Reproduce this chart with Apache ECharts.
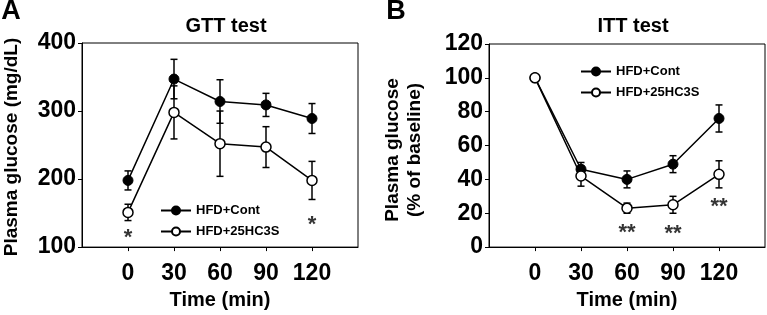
<!DOCTYPE html>
<html>
<head>
<meta charset="utf-8">
<script src="https://cdn.jsdelivr.net/npm/echarts@6/dist/echarts.min.js"></script>
<style>
  html, body { margin: 0; padding: 0; background: #fff; }
  #main { width: 767px; height: 315px; }
</style>
</head>
<body>
<div id="main"></div>
<script>
// time points (min)
const times = [0, 30, 60, 90, 120];
const timeTicks = [0, 30, 60, 90, 120];

// GTT (mg/dL)
const gttCont = [198, 347, 314, 309, 289];
const gttContErr = [14, 29, 32, 17, 22];
const gttHC = [151, 298, 252, 247, 198];
const gttHCErr = [12, 39, 48, 30, 28];
const gttStars = [[0, 119, '*'], [120, 138, '*']];

// ITT (% of baseline)
const ittCont = [100, 46, 40, 49, 76];
const ittContErr = [0, 4, 5, 5, 8];
const ittHC = [100, 42, 23, 25, 43];
const ittHCErr = [0, 6, 3, 5, 8];
const ittStars = [[60, 10.5, '**'], [90, 10, '**'], [120, 26, '**']];

const FONT = '"Liberation Sans", Arial, sans-serif';

const chart = echarts.init(document.getElementById('main'), null, { renderer: 'canvas' });

function pairs(vals) {
  return vals.map((v, i) => [times[i], v]);
}
function errData(vals, errs) {
  const out = [];
  for (let i = 0; i < vals.length; i++) {
    if (errs[i] > 0) out.push([times[i], vals[i] - errs[i], vals[i] + errs[i]]);
  }
  return out;
}

// error bar with caps
function renderErr(params, api) {
  const lo = api.coord([api.value(0), api.value(1)]);
  const hi = api.coord([api.value(0), api.value(2)]);
  const w = 3.5;
  const st = { stroke: '#000', lineWidth: 1.5 };
  return {
    type: 'group',
    children: [
      { type: 'line', shape: { x1: lo[0], y1: lo[1], x2: hi[0], y2: hi[1] }, style: st },
      { type: 'line', shape: { x1: lo[0] - w, y1: lo[1], x2: lo[0] + w, y2: lo[1] }, style: st },
      { type: 'line', shape: { x1: hi[0] - w, y1: hi[1], x2: hi[0] + w, y2: hi[1] }, style: st }
    ]
  };
}

function xAxis(idx) {
  return {
    type: 'value', gridIndex: idx, min: -30, max: 150, interval: 30,
    name: 'Time (min)', nameLocation: 'middle', nameGap: 40,
    nameTextStyle: { color: '#000', fontFamily: FONT, fontWeight: 'bold', fontSize: 20 },
    axisLine: { onZero: false, lineStyle: { color: '#000', width: 1 } },
    axisTick: { show: true, length: 4, customValues: timeTicks, lineStyle: { color: '#000' } },
    axisLabel: { customValues: timeTicks, margin: 15, color: '#000', fontFamily: FONT, fontWeight: 'bold', fontSize: 23 },
    splitLine: { show: false }
  };
}
function yAxis(idx, min, max, step) {
  return {
    type: 'value', gridIndex: idx, min: min, max: max, interval: step,
    axisLine: { show: true, onZero: false, lineStyle: { color: '#000', width: 1 } },
    axisTick: { show: true, length: 4, lineStyle: { color: '#000' } },
    axisLabel: { margin: 6, color: '#000', fontFamily: FONT, fontWeight: 'bold', fontSize: 23 },
    splitLine: { show: false }
  };
}

function lineSeries(name, idx, vals, open) {
  return {
    name: name, type: 'line', xAxisIndex: idx, yAxisIndex: idx,
    data: pairs(vals), symbol: 'circle', symbolSize: 10,
    lineStyle: { color: '#000', width: 1.5 },
    itemStyle: open ? { color: '#fff', borderColor: '#000', borderWidth: 1.5 } : { color: '#000', borderColor: '#000', borderWidth: 1 },
    z: open ? 4 : 3, animation: false
  };
}
function errSeries(idx, vals, errs) {
  return {
    type: 'custom', xAxisIndex: idx, yAxisIndex: idx,
    renderItem: renderErr, data: errData(vals, errs), z: 2, silent: true, animation: false
  };
}
function starSeries(idx, stars) {
  return {
    type: 'scatter', xAxisIndex: idx, yAxisIndex: idx, symbolSize: 0,
    data: stars.map(s => ({ value: [s[0], s[1]], name: s[2] })),
    label: {
      show: true, position: 'inside', formatter: p => p.name, offset: [0, 4],
      color: '#000', fontFamily: FONT, fontWeight: 'bold', fontSize: 22
    },
    silent: true, animation: false
  };
}

function heading(text, left, top, size) {
  return {
    text: text, left: left, top: top, textAlign: 'center', padding: 0,
    textStyle: { color: '#000', fontFamily: FONT, fontWeight: 'bold', fontSize: size }
  };
}
function vtxt(x, y, text, size) {
  return {
    type: 'text', x: x, y: y, rotation: Math.PI / 2,
    style: {
      text: text, fill: '#000', fontFamily: FONT, fontWeight: 'bold', fontSize: size,
      textAlign: 'center', textVerticalAlign: 'middle'
    }
  };
}

const legendBase = {
  orient: 'vertical', itemWidth: 30, itemHeight: 10, itemGap: 8,
  textStyle: { color: '#000', fontFamily: FONT, fontWeight: 'bold', fontSize: 13 },
  data: ['HFD+Cont', 'HFD+25HC3S'], selectedMode: false
};

const option = {
  animation: false,
  backgroundColor: '#fff',
  title: [
    heading('A', 11, -2, 27),
    heading('B', 396, -2, 27),
    heading('GTT test', 226, 16, 20),
    heading('ITT test', 633, 16, 20)
  ],
  grid: [
    { left: 82, top: 43, width: 276, height: 205, show: true, borderColor: '#000', borderWidth: 1 },
    { left: 489, top: 44, width: 276, height: 205, show: true, borderColor: '#000', borderWidth: 1 }
  ],
  xAxis: [xAxis(0), xAxis(1)],
  yAxis: [yAxis(0, 100, 400, 100), yAxis(1, 0, 120, 20)],
  legend: [
    Object.assign({ left: 155, top: 199 }, legendBase),
    Object.assign({ left: 575, top: 60 }, legendBase)
  ],
  graphic: [
    vtxt(12, 147, 'Plasma glucose (mg/dL)', 19),
    vtxt(393, 150, 'Plasma glucose', 19),
    vtxt(415, 150, '(% of baseline)', 19)
  ],
  series: [
    errSeries(0, gttCont, gttContErr),
    errSeries(0, gttHC, gttHCErr),
    lineSeries('HFD+Cont', 0, gttCont, false),
    lineSeries('HFD+25HC3S', 0, gttHC, true),
    starSeries(0, gttStars),
    errSeries(1, ittCont, ittContErr),
    errSeries(1, ittHC, ittHCErr),
    lineSeries('HFD+Cont', 1, ittCont, false),
    lineSeries('HFD+25HC3S', 1, ittHC, true),
    starSeries(1, ittStars)
  ]
};

chart.setOption(option);
</script>
</body>
</html>
